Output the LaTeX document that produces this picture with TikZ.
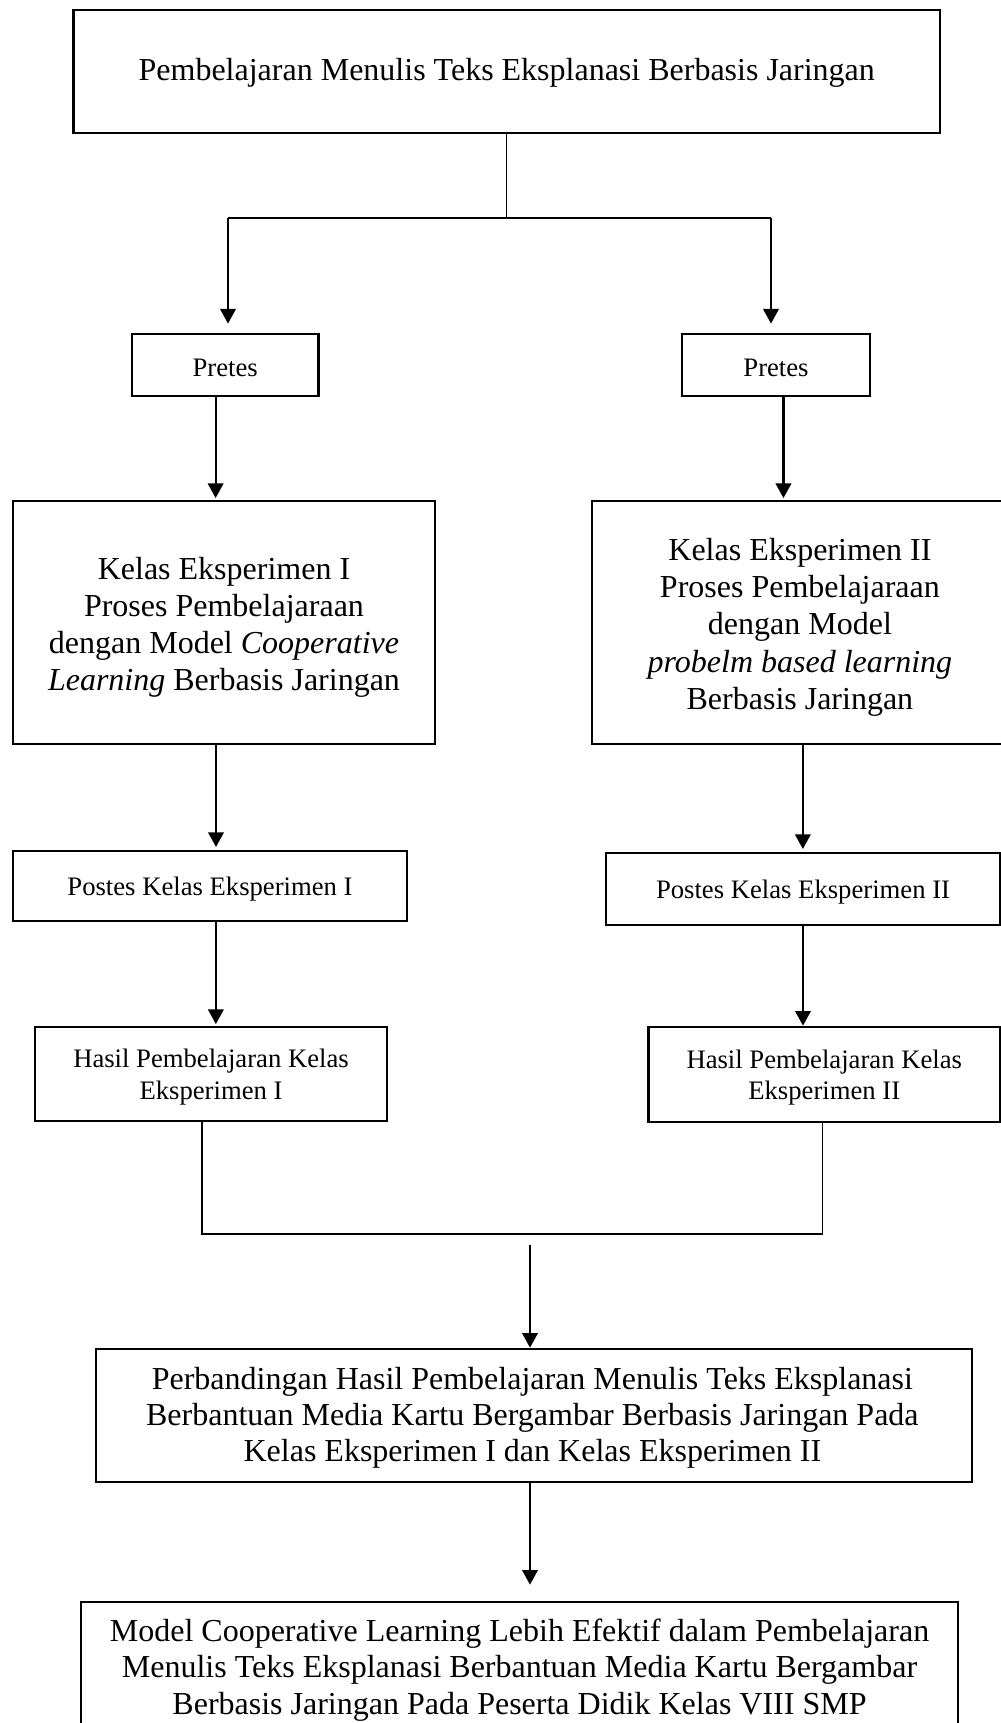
\documentclass[tikz,border=0pt]{standalone}
\usepackage{fontspec}
\setmainfont{Liberation Serif}
\usetikzlibrary{arrows.meta}
\begin{document}
\begin{tikzpicture}[x=0.375pt,y=-0.375pt,
  box/.style={draw,line width=1pt,inner sep=0pt,rectangle},
  txt/.style={inner sep=0pt,align=center},
  big/.style={font=\fontsize{12}{13.9}\selectfont},
  small/.style={font=\fontsize{10}{11.75}\selectfont},
  arr/.style={line width=0.85pt,-{Triangle[length=5.5pt,width=5.8pt]}},
  thin/.style={line width=0.5pt}]
\useasboundingbox (0,0) rectangle (1001,1723);
\clip (0,0) rectangle (1001,1723);
\fill[white] (0,0) rectangle (1001,1723);

% boxes
\node[box,minimum width=866.5*0.375pt,minimum height=123*0.375pt] (top) at (506.75,71.5) {};
\node[box,minimum width=186.5*0.375pt,minimum height=62*0.375pt] (pl) at (225.25,365) {};
\node[box,minimum width=188*0.375pt,minimum height=62*0.375pt] (pr) at (776,365) {};
\node[box,minimum width=422*0.375pt,minimum height=243*0.375pt] (kl) at (224,622.5) {};
\node[box,minimum width=418*0.375pt,minimum height=243*0.375pt] (kr) at (801,622.5) {};
\node[box,minimum width=394*0.375pt,minimum height=70*0.375pt] (ol) at (210,886) {};
\node[box,minimum width=394*0.375pt,minimum height=72*0.375pt] (or) at (803,889) {};
\node[box,minimum width=352*0.375pt,minimum height=94*0.375pt] (hl) at (211,1074) {};
\node[box,minimum width=351.5*0.375pt,minimum height=95*0.375pt] (hr) at (824.25,1074.5) {};
\node[box,minimum width=876*0.375pt,minimum height=133*0.375pt] (pb) at (534,1415.5) {};
\node[box,minimum width=877*0.375pt,minimum height=132*0.375pt] (last) at (519.5,1668) {};

% texts
\node[txt,big] (topT) at ([yshift=-0.6pt]top.center)
  {Pembelajaran Menulis Teks Eksplanasi Berbasis Jaringan};
\node[txt,small] (plT) at ([yshift=-1.2pt]pl.center) {Pretes};
\node[txt,small] (prT) at ([yshift=-1.2pt]pr.center) {Pretes};
\node[txt,big] (klT) at ([yshift=-1.8pt]kl.center)
  {Kelas Eksperimen I\\Proses Pembelajaraan\\dengan Model \textit{Cooperative}\\\textit{Learning} Berbasis Jaringan};
\node[txt,big] (krT) at ([yshift=-1.8pt,xshift=-0.4pt]kr.center)
  {Kelas Eksperimen II\\Proses Pembelajaraan\\dengan Model\\\textit{probelm based learning}\\Berbasis Jaringan};
\node[txt,small] (olT) at ([yshift=-1.3pt]ol.center) {Postes Kelas Eksperimen I};
\node[txt,small] (orT) at ([yshift=-1.3pt]or.center) {Postes Kelas Eksperimen II};
\node[txt,small] (hlT) at ([yshift=-1.1pt]hl.center) {Hasil Pembelajaran Kelas\\Eksperimen I};
\node[txt,small] (hrT) at ([yshift=-1.1pt]hr.center) {Hasil Pembelajaran Kelas\\Eksperimen II};
\node[txt,font=\fontsize{12}{13.5}\selectfont] (pbT) at ([yshift=-0.8pt,xshift=-0.6pt]pb.center)
  {Perbandingan Hasil Pembelajaran Menulis Teks Eksplanasi\\Berbantuan Media Kartu Bergambar Berbasis Jaringan Pada\\Kelas Eksperimen I dan Kelas Eksperimen II};
\node[txt,font=\fontsize{12}{13.7}\selectfont] (lastT) at ([yshift=-0.8pt]last.center)
  {Model Cooperative Learning Lebih Efektif dalam Pembelajaran\\Menulis Teks Eksplanasi Berbantuan Media Kartu Bergambar\\Berbasis Jaringan Pada Peserta Didik Kelas VIII SMP};

% top split
\coordinate (j) at (506.5,218);
\coordinate (jl) at (228,218);
\coordinate (jr) at (771,218);
\draw[thin] (top.south -| j) -- (j);
\draw[thin] (jl) -- (jr);
\draw[arr,shorten >=3.4pt] (jl) -- (jl |- pl.north);
\draw[arr,shorten >=3.4pt] (jr) -- (jr |- pr.north);

% pretes -> kelas
\draw[arr,shorten >=0.6pt] ([xshift=-3.6pt]pl.south) -- ([xshift=-3.6pt]pl.south |- kl.north);
\draw[arr,shorten >=0.6pt] ([xshift=2.8pt]pr.south) -- ([xshift=2.8pt]pr.south |- kr.north);

% kelas -> postes
\draw[arr,shorten >=1pt] ([xshift=-3pt]kl.south) -- ([xshift=-3pt]kl.south |- ol.north);
\draw[arr,shorten >=1pt] ([xshift=0.7pt]kr.south) -- ([xshift=0.7pt]kr.south |- or.north);

% postes -> hasil
\draw[arr,shorten >=0.6pt] ([xshift=2.2pt]ol.south) -- ([xshift=2.2pt]ol.south |- hl.north);
\draw[arr] (or.south) -- (or.south |- hr.north);

% hasil join
\coordinate (bl) at (202,1234);
\coordinate (br) at (822.5,1234);
\draw[thin] (hl.south -| bl) -- (bl) -- (br) -- (hr.south -| br);

% to perbandingan
\coordinate (s) at (530,1245);
\draw[arr] (s) -- (s |- pb.north);
\draw[arr,shorten >=6pt] (pb.south -| s) -- (s |- last.north);
\end{tikzpicture}
\end{document}
